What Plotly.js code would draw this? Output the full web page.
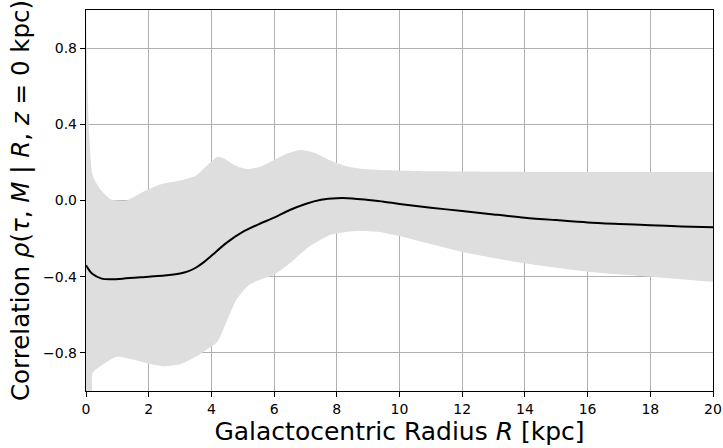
<!DOCTYPE html>
<html>
<head>
<meta charset="utf-8">
<script src="https://cdn.plot.ly/plotly-3.0.1.min.js"></script>
<style>html,body{margin:0;padding:0;background:#fff;}#chart{width:723px;height:448px;}</style>
</head>
<body>
<div id="chart"></div>
<script>
// Mean correlation curve
const meanR = [0, 0.2, 0.5, 0.8, 1.2, 2, 2.5, 3, 3.25, 3.5, 3.75, 4, 4.5, 5, 5.5, 6, 6.5, 7, 7.5, 8, 8.5, 9, 9.5, 10, 11, 12, 13, 14, 15, 16, 17, 18, 19, 20];
const meanRho = [-0.34, -0.385, -0.41, -0.413, -0.41, -0.40, -0.394, -0.383, -0.372, -0.353, -0.325, -0.29, -0.22, -0.165, -0.125, -0.09, -0.05, -0.018, 0.004, 0.012, 0.011, 0.003, -0.006, -0.018, -0.038, -0.055, -0.073, -0.09, -0.103, -0.115, -0.123, -0.13, -0.136, -0.14];

// Upper bound of band
const upR = [0, 0.05, 0.1, 0.2, 0.3, 0.5, 0.8, 1.0, 1.3, 1.6, 2, 2.5, 3, 3.5, 3.9, 4.2, 4.4, 4.6, 4.9, 5.23, 5.6, 5.97, 6.4, 6.83, 7.3, 7.8, 8.3, 8.85, 9.9, 11, 12, 14, 16, 18, 20];
const upRho = [1.0, 0.6, 0.35, 0.14, 0.10, 0.05, 0.005, 0.0, 0.0, 0.026, 0.06, 0.09, 0.105, 0.13, 0.19, 0.23, 0.22, 0.2, 0.175, 0.165, 0.18, 0.21, 0.245, 0.265, 0.25, 0.21, 0.18, 0.165, 0.157, 0.153, 0.152, 0.15, 0.15, 0.15, 0.15];

// Lower bound of band
const loR = [0, 0.19, 0.21, 0.5, 0.98, 1.5, 2, 2.5, 3, 3.5, 4, 4.2, 4.5, 4.8, 5.23, 5.65, 6.0, 6.5, 7.05, 7.8, 8.6, 9.35, 10.1, 10.9, 12, 14, 16, 18, 20];
const loRho = [-1.1, -1.1, -0.905, -0.865, -0.82, -0.835, -0.857, -0.87, -0.86, -0.82, -0.766, -0.74, -0.63, -0.52, -0.44, -0.41, -0.39, -0.33, -0.25, -0.18, -0.16, -0.165, -0.19, -0.225, -0.27, -0.33, -0.374, -0.40, -0.427];

const yTickVals = [-0.8, -0.4, 0.0, 0.4, 0.8];
const yTickText = ['\u22120.8', '\u22120.4', '0.0', '0.4', '0.8'];
const xTickVals = [0, 2, 4, 6, 8, 10, 12, 14, 16, 18, 20];
const xTickText = ['0', '2', '4', '6', '8', '10', '12', '14', '16', '18', '20'];

const lower = {
  x: loR, y: loRho, type: 'scatter', mode: 'lines',
  line: {width: 0, color: 'rgba(0,0,0,0)', shape: 'spline', smoothing: 0.6},
  hoverinfo: 'skip', showlegend: false
};
const upper = {
  x: upR, y: upRho, type: 'scatter', mode: 'lines', fill: 'tonexty',
  fillcolor: '#dedede', line: {width: 0, color: 'rgba(0,0,0,0)', shape: 'spline', smoothing: 0.6},
  hoverinfo: 'skip', showlegend: false
};
const mean = {
  x: meanR, y: meanRho, type: 'scatter', mode: 'lines',
  line: {color: '#000000', width: 2, shape: 'spline', smoothing: 0.8},
  showlegend: false
};

const tickFont = {family: 'DejaVu Sans, sans-serif', size: 14, color: '#000'};
const layout = {
  width: 723, height: 448,
  margin: {l: 86, r: 10, t: 10, b: 57},
  paper_bgcolor: '#fff', plot_bgcolor: '#fff',
  font: {family: 'DejaVu Sans, sans-serif', color: '#000'},
  showlegend: false,
  xaxis: {
    range: [0, 20], tickvals: xTickVals, ticktext: xTickText,
    showgrid: true, gridcolor: '#b0b0b0', gridwidth: 1,
    zeroline: false, showline: true, linecolor: '#000', linewidth: 1.2, mirror: true,
    ticks: 'outside', ticklen: 5, tickwidth: 1, tickcolor: '#000',
    tickfont: tickFont,
    title: {text: 'Galactocentric Radius <i>R</i> [kpc]', font: {family: 'DejaVu Sans, sans-serif', size: 25, color: '#000'}, standoff: 6},
    automargin: false
  },
  yaxis: {
    range: [-1, 1], tickvals: yTickVals, ticktext: yTickText,
    showgrid: true, gridcolor: '#b0b0b0', gridwidth: 1,
    zeroline: false, showline: true, linecolor: '#000', linewidth: 1.2, mirror: true,
    ticks: 'outside', ticklen: 5, tickwidth: 1, tickcolor: '#000',
    tickfont: tickFont,
    title: {text: 'Correlation <i>ρ</i>(<i>τ</i>, <i>M</i> | <i>R</i>, <i>z</i> = 0 kpc)', font: {family: 'DejaVu Sans, sans-serif', size: 24.5, color: '#000'}, standoff: 6},
    automargin: false
  }
};
Plotly.newPlot('chart', [lower, upper, mean], layout, {staticPlot: true, displayModeBar: false});
</script>
</body>
</html>
